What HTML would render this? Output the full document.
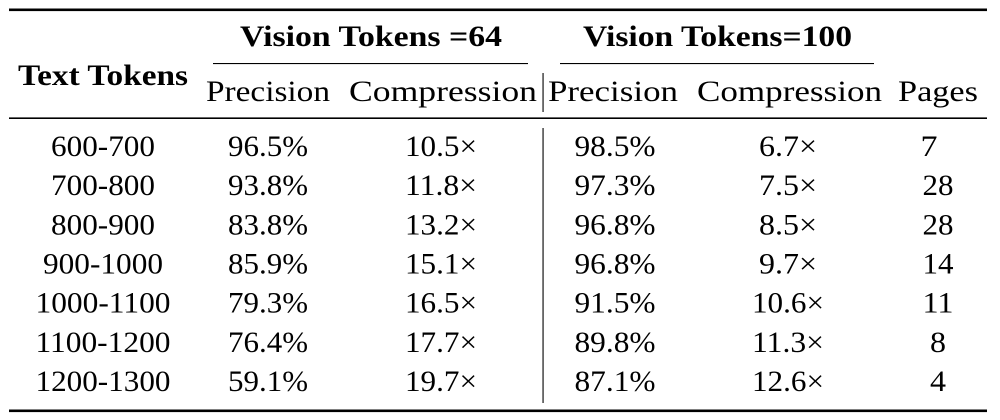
<!DOCTYPE html>
<html>
<head>
<meta charset="utf-8">
<style>
  html,body{margin:0;padding:0;background:#fff;}
  body{width:1000px;height:420px;overflow:hidden;}
  svg{display:block;}
  text{font-family:"Liberation Serif","DejaVu Serif",serif;fill:#000;}
  .b{font-weight:bold;}
</style>
</head>
<body>
<svg width="1000" height="420" viewBox="0 0 1000 420" xmlns="http://www.w3.org/2000/svg">
  <!-- rules -->
  <rect x="9" y="8.5" width="978" height="2.6" fill="#000"/>
  <rect x="213" y="63" width="315" height="1.1" fill="#000"/>
  <rect x="560" y="63" width="314" height="1.1" fill="#000"/>
  <rect x="9" y="117.4" width="978" height="1.6" fill="#000"/>
  <rect x="9" y="409.5" width="978" height="2.6" fill="#000"/>
  <!-- vertical line -->
  <rect x="542.5" y="73" width="1.1" height="39" fill="#000"/>
  <rect x="542.5" y="128" width="1.1" height="275" fill="#000"/>

  <!-- header -->
  <g font-size="29.5">
    <text class="b" x="240" y="46" textLength="262" lengthAdjust="spacingAndGlyphs">Vision Tokens =64</text>
    <text class="b" x="583" y="46" textLength="269" lengthAdjust="spacingAndGlyphs">Vision Tokens=100</text>
    <text class="b" x="18" y="85" textLength="170" lengthAdjust="spacingAndGlyphs">Text Tokens</text>
    <text x="206" y="101" textLength="124" lengthAdjust="spacingAndGlyphs">Precision</text>
    <text x="349" y="101" textLength="188" lengthAdjust="spacingAndGlyphs">Compression</text>
    <text x="548" y="101" textLength="130" lengthAdjust="spacingAndGlyphs">Precision</text>
    <text x="697" y="101" textLength="185" lengthAdjust="spacingAndGlyphs">Compression</text>
    <text x="898" y="101" textLength="80" lengthAdjust="spacingAndGlyphs">Pages</text>
  </g>

  <!-- body -->
  <g font-size="29.5" text-anchor="middle">
    <!-- row 1 -->
    <text x="103" y="156" textLength="104" lengthAdjust="spacingAndGlyphs">600-700</text>
    <text x="268" y="156" textLength="80" lengthAdjust="spacingAndGlyphs">96.5%</text>
    <text x="441" y="156" textLength="72" lengthAdjust="spacingAndGlyphs">10.5×</text>
    <text x="615" y="156" textLength="81" lengthAdjust="spacingAndGlyphs">98.5%</text>
    <text x="788" y="156" textLength="58" lengthAdjust="spacingAndGlyphs">6.7×</text>
    <text x="929" y="156" textLength="17" lengthAdjust="spacingAndGlyphs">7</text>
    <!-- row 2 -->
    <text x="103" y="195.2" textLength="104" lengthAdjust="spacingAndGlyphs">700-800</text>
    <text x="268" y="195.2" textLength="80" lengthAdjust="spacingAndGlyphs">93.8%</text>
    <text x="441" y="195.2" textLength="72" lengthAdjust="spacingAndGlyphs">11.8×</text>
    <text x="615" y="195.2" textLength="81" lengthAdjust="spacingAndGlyphs">97.3%</text>
    <text x="788" y="195.2" textLength="58" lengthAdjust="spacingAndGlyphs">7.5×</text>
    <text x="938" y="195.2" textLength="31" lengthAdjust="spacingAndGlyphs">28</text>
    <!-- row 3 -->
    <text x="103" y="234.3" textLength="104" lengthAdjust="spacingAndGlyphs">800-900</text>
    <text x="268" y="234.3" textLength="80" lengthAdjust="spacingAndGlyphs">83.8%</text>
    <text x="441" y="234.3" textLength="72" lengthAdjust="spacingAndGlyphs">13.2×</text>
    <text x="615" y="234.3" textLength="81" lengthAdjust="spacingAndGlyphs">96.8%</text>
    <text x="788" y="234.3" textLength="58" lengthAdjust="spacingAndGlyphs">8.5×</text>
    <text x="938" y="234.3" textLength="31" lengthAdjust="spacingAndGlyphs">28</text>
    <!-- row 4 -->
    <text x="103" y="273.5" textLength="120" lengthAdjust="spacingAndGlyphs">900-1000</text>
    <text x="268" y="273.5" textLength="80" lengthAdjust="spacingAndGlyphs">85.9%</text>
    <text x="441" y="273.5" textLength="72" lengthAdjust="spacingAndGlyphs">15.1×</text>
    <text x="615" y="273.5" textLength="81" lengthAdjust="spacingAndGlyphs">96.8%</text>
    <text x="788" y="273.5" textLength="58" lengthAdjust="spacingAndGlyphs">9.7×</text>
    <text x="938" y="273.5" textLength="31" lengthAdjust="spacingAndGlyphs">14</text>
    <!-- row 5 -->
    <text x="103" y="312.7" textLength="135" lengthAdjust="spacingAndGlyphs">1000-1100</text>
    <text x="268" y="312.7" textLength="80" lengthAdjust="spacingAndGlyphs">79.3%</text>
    <text x="441" y="312.7" textLength="72" lengthAdjust="spacingAndGlyphs">16.5×</text>
    <text x="615" y="312.7" textLength="81" lengthAdjust="spacingAndGlyphs">91.5%</text>
    <text x="788" y="312.7" textLength="72" lengthAdjust="spacingAndGlyphs">10.6×</text>
    <text x="938" y="312.7" textLength="31" lengthAdjust="spacingAndGlyphs">11</text>
    <!-- row 6 -->
    <text x="103" y="351.8" textLength="135" lengthAdjust="spacingAndGlyphs">1100-1200</text>
    <text x="268" y="351.8" textLength="80" lengthAdjust="spacingAndGlyphs">76.4%</text>
    <text x="441" y="351.8" textLength="72" lengthAdjust="spacingAndGlyphs">17.7×</text>
    <text x="615" y="351.8" textLength="81" lengthAdjust="spacingAndGlyphs">89.8%</text>
    <text x="788" y="351.8" textLength="72" lengthAdjust="spacingAndGlyphs">11.3×</text>
    <text x="938" y="351.8" textLength="16" lengthAdjust="spacingAndGlyphs">8</text>
    <!-- row 7 -->
    <text x="103" y="391" textLength="135" lengthAdjust="spacingAndGlyphs">1200-1300</text>
    <text x="268" y="391" textLength="80" lengthAdjust="spacingAndGlyphs">59.1%</text>
    <text x="441" y="391" textLength="72" lengthAdjust="spacingAndGlyphs">19.7×</text>
    <text x="615" y="391" textLength="81" lengthAdjust="spacingAndGlyphs">87.1%</text>
    <text x="788" y="391" textLength="72" lengthAdjust="spacingAndGlyphs">12.6×</text>
    <text x="938" y="391" textLength="16" lengthAdjust="spacingAndGlyphs">4</text>
  </g>
</svg>
</body>
</html>
